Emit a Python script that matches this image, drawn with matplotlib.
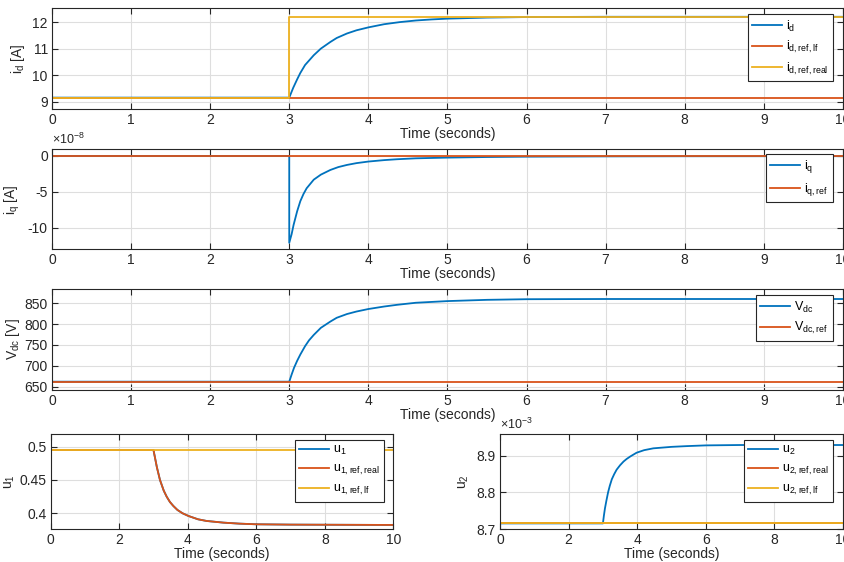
import matplotlib
matplotlib.use('Agg')
import matplotlib.pyplot as plt
from matplotlib.ticker import FuncFormatter
import numpy as np

plt.rcParams['font.family'] = ['Liberation Sans', 'DejaVu Sans']
plt.rcParams['mathtext.fontset'] = 'custom'
plt.rcParams['mathtext.rm'] = 'Liberation Sans'
plt.rcParams['font.size'] = 10

# MATLAB default line colours
BLUE = '#0072BD'
RED = '#D95319'
YELLOW = '#EDB120'
DARK = '#262626'

# ---- data ----
t_step = [0, 3, 3, 10]

t_id = [0, 3.0, 3.05, 3.1, 3.14, 3.2, 3.31, 3.4, 3.52, 3.6, 3.73, 3.85, 4.0,
        4.2, 4.4, 4.6, 4.8, 5.0, 5.5, 6.0, 7.0, 10]
id_vals = [9.15, 9.15, 9.52, 9.84, 10.08, 10.38, 10.75, 11.0, 11.25, 11.4, 11.57,
           11.69, 11.8, 11.92, 12.0, 12.06, 12.1, 12.13, 12.17, 12.19, 12.2, 12.2]
id_ref_lf = [9.15, 9.15]
id_ref_real = [9.15, 9.15, 12.2, 12.2]

t_iq = [0, 3.0, 3.0, 3.03, 3.055, 3.1, 3.14, 3.18, 3.22, 3.31, 3.4, 3.52, 3.62,
        3.73, 3.85, 4.0, 4.2, 4.36, 4.6, 5.0, 5.5, 6.0, 7.0, 8.0, 10]
iq_vals = [0, 0, -12.1, -10.9, -9.6, -7.7, -6.3, -5.3, -4.5, -3.3, -2.6, -1.95,
           -1.55, -1.25, -1.0, -0.78, -0.58, -0.46, -0.33, -0.23, -0.15, -0.1,
           -0.06, -0.04, -0.03]  # x 1e-8
iq_ref = [0, 0]

t_vdc = [0, 3.0, 3.03, 3.06, 3.1, 3.14, 3.2, 3.25, 3.31, 3.4, 3.52, 3.6, 3.73,
         3.85, 4.0, 4.2, 4.36, 4.6, 5.0, 5.5, 6.0, 7.0, 10]
vdc_vals = [662, 662, 679, 695, 712, 727, 747, 761, 774, 791, 806, 815, 824,
            830, 836, 842, 846, 851, 855, 858, 859.5, 860, 860]
vdc_ref = [662, 662]

t_u1 = [0, 3.0, 3.05, 3.1, 3.19, 3.3, 3.385, 3.48, 3.58, 3.7, 3.85, 4.02, 4.3,
        4.55, 5.04, 5.5, 6.0, 7.0, 10]
u1_vals = [0.495, 0.495, 0.482, 0.469, 0.45, 0.434, 0.425, 0.417, 0.411, 0.405,
           0.4, 0.396, 0.391, 0.3885, 0.386, 0.3845, 0.3835, 0.383, 0.3825]
u1_ref_lf = [0.495, 0.495]

t_u2 = [0, 3.0, 3.03, 3.06, 3.1, 3.15, 3.2, 3.26, 3.33, 3.4, 3.5, 3.6, 3.69,
        3.8, 3.98, 4.2, 4.47, 5.0, 5.44, 6.0, 7.0, 10]
u2_vals = [8.716, 8.716, 8.738, 8.757, 8.777, 8.800, 8.818, 8.836, 8.850, 8.862,
           8.874, 8.884, 8.891, 8.898, 8.908, 8.915, 8.92, 8.924, 8.926, 8.928,
           8.929, 8.929]  # x 1e-3
u2_ref = [8.716, 8.716]

t_const = [0, 10]
LW = 1.3


def style_axes(ax, xticks):
    ax.set_xlim(0, 10)
    ax.set_xticks(xticks)
    ax.grid(True, color='#dedede', lw=0.8)
    ax.set_axisbelow(True)
    ax.tick_params(direction='in', top=True, right=True, length=4,
                   color=DARK, labelcolor=DARK, pad=3)
    for s in ax.spines.values():
        s.set_color(DARK)
        s.set_linewidth(0.8)
    ax.set_xlabel('Time (seconds)', color=DARK, labelpad=0)


def add_legend(ax, x, y):
    leg = ax.legend(loc='upper right', bbox_to_anchor=(x, y), fancybox=False,
                    edgecolor=DARK, framealpha=1, borderaxespad=0,
                    handlelength=2.4, handletextpad=0.3, labelspacing=0.45,
                    fontsize=9, borderpad=0.35)
    leg.get_frame().set_linewidth(0.8)


fig = plt.figure(figsize=(8.45, 5.62), dpi=100)

# panel 1: i_d
ax1 = fig.add_axes([0.0615, 0.806, 0.936, 0.1797])
ax1.plot(t_id, id_vals, color=BLUE, lw=LW, label=r'$\mathregular{i_d}$')
ax1.plot(t_const, id_ref_lf, color=RED, lw=LW, label=r'$\mathregular{i_{d,ref,lf}}$')
ax1.plot(t_step, id_ref_real, color=YELLOW, lw=LW, label=r'$\mathregular{i_{d,ref,real}}$')
ax1.set_ylim(8.72, 12.53)
ax1.set_yticks([9, 10, 11, 12])
ax1.set_ylabel(r'$\mathregular{i_d}$ [A]', color=DARK)
style_axes(ax1, range(0, 11))
add_legend(ax1, 0.987, 0.94)

# panel 2: i_q
ax2 = fig.add_axes([0.0615, 0.5564, 0.936, 0.1785])
ax2.plot(t_iq, np.array(iq_vals) * 1e-8, color=BLUE, lw=LW, label=r'$\mathregular{i_q}$')
ax2.plot(t_const, iq_ref, color=RED, lw=LW, label=r'$\mathregular{i_{q,ref}}$')
ax2.set_ylim(-13e-8, 0.97e-8)
ax2.set_yticks([-10e-8, -5e-8, 0])
ax2.yaxis.set_major_formatter(FuncFormatter(lambda v, p: '%g' % round(v / 1e-8, 6)))
ax2.text(0.0, 1.02, r'$\times10^{-8}$', transform=ax2.transAxes, color=DARK,
         fontsize=9, va='bottom', ha='left')
ax2.set_ylabel(r'$\mathregular{i_q}$ [A]', color=DARK)
style_axes(ax2, range(0, 11))
add_legend(ax2, 0.987, 0.95)

# panel 3: V_dc
ax3 = fig.add_axes([0.0615, 0.306, 0.936, 0.1798])
ax3.plot(t_vdc, vdc_vals, color=BLUE, lw=LW, label=r'$\mathregular{V_{dc}}$')
ax3.plot(t_const, vdc_ref, color=RED, lw=LW, label=r'$\mathregular{V_{dc,ref}}$')
ax3.set_ylim(642, 884)
ax3.set_yticks([650, 700, 750, 800, 850])
ax3.set_ylabel(r'$\mathregular{V_{dc}}$ [V]', color=DARK, labelpad=2)
style_axes(ax3, range(0, 11))
add_legend(ax3, 0.987, 0.94)

# panel 4: u_1
ax4 = fig.add_axes([0.06, 0.0582, 0.4054, 0.1696])
ax4.plot(t_u1, u1_vals, color=BLUE, lw=LW, label=r'$\mathregular{u_1}$')
ax4.plot(t_u1, u1_vals, color=RED, lw=LW, label=r'$\mathregular{u_{1,ref,real}}$')
ax4.plot(t_const, u1_ref_lf, color=YELLOW, lw=LW, label=r'$\mathregular{u_{1,ref,lf}}$')
ax4.set_ylim(0.376, 0.519)
ax4.set_yticks([0.4, 0.45, 0.5])
ax4.yaxis.set_major_formatter(FuncFormatter(lambda v, p: '%g' % round(v, 6)))
ax4.set_ylabel(r'$\mathregular{u_1}$', color=DARK, labelpad=2)
style_axes(ax4, range(0, 11, 2))
add_legend(ax4, 0.973, 0.937)

# panel 5: u_2
ax5 = fig.add_axes([0.5917, 0.0582, 0.406, 0.1696])
ax5.plot(t_u2, np.array(u2_vals) * 1e-3, color=BLUE, lw=LW, label=r'$\mathregular{u_2}$')
ax5.plot(t_const, np.array(u2_ref) * 1e-3, color=RED, lw=LW, label=r'$\mathregular{u_{2,ref,real}}$')
ax5.plot(t_const, np.array(u2_ref) * 1e-3, color=YELLOW, lw=LW, label=r'$\mathregular{u_{2,ref,lf}}$')
ax5.set_ylim(8.7e-3, 8.959e-3)
ax5.set_yticks([8.7e-3, 8.8e-3, 8.9e-3])
ax5.yaxis.set_major_formatter(FuncFormatter(lambda v, p: '%g' % round(v / 1e-3, 6)))
ax5.text(0.0, 1.02, r'$\times10^{-3}$', transform=ax5.transAxes, color=DARK,
         fontsize=9, va='bottom', ha='left')
ax5.set_ylabel(r'$\mathregular{u_2}$', color=DARK, labelpad=4)
style_axes(ax5, range(0, 11, 2))
add_legend(ax5, 0.971, 0.937)

fig.savefig('out.png', dpi=100)
